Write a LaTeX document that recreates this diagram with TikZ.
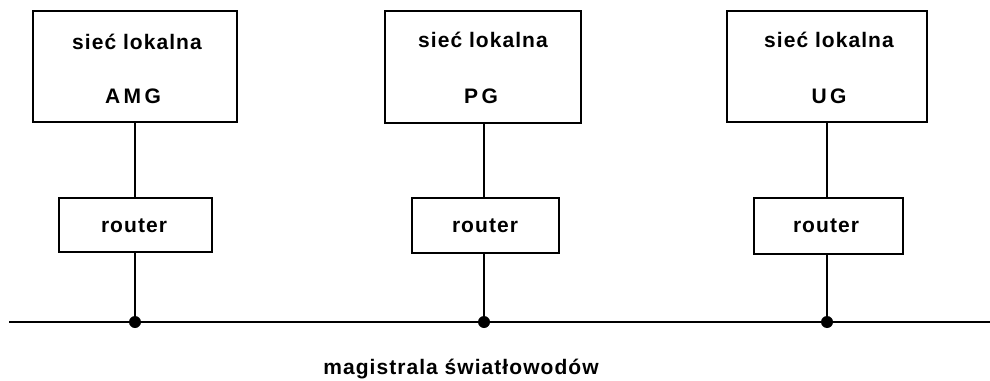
\documentclass[tikz,border=0pt]{standalone}
\usepackage{fontspec}
\setmainfont{Liberation Sans}[LetterSpace=5]
\begin{document}
\begin{tikzpicture}[x=1pt,y=-1pt,
  lanbox/.style={draw, line width=1.3pt, rectangle, inner sep=0pt},
  routerbox/.style={draw, line width=1.3pt, rectangle, inner sep=0pt},
  txt/.style={font=\fontsize{21}{24}\selectfont\bfseries, anchor=base, inner sep=0pt},
  wire/.style={line width=1.6pt},
  joint/.style={circle, fill=black, inner sep=0pt, minimum size=12pt}]
\useasboundingbox (0,0) rectangle (990,380);
% LAN boxes
\node[lanbox, minimum width=204pt, minimum height=111pt] (lan1) at (135,66.5) {};
\node[lanbox, minimum width=196pt, minimum height=112pt] (lan2) at (483,67) {};
\node[lanbox, minimum width=200pt, minimum height=111pt] (lan3) at (827,66.5) {};
\node[txt] (l1a) at (137,49) {sieć lokalna};
\node[txt] (l1b) at (133,103) {A\,M\,G};
\node[txt] (l2a) at (483,47) {sieć lokalna};
\node[txt] (l2b) at (481,103) {P\,G};
\node[txt] (l3a) at (829,47) {sieć lokalna};
\node[txt] (l3b) at (829,103) {U\,G};
% routers
\node[routerbox, minimum width=153pt, minimum height=54pt] (r1) at (135.5,225) {};
\node[routerbox, minimum width=147pt, minimum height=55pt] (r2) at (485.5,225.5) {};
\node[routerbox, minimum width=149pt, minimum height=56pt] (r3) at (828.5,226) {};
\node[txt] (t1) at (134,232) {router};
\node[txt] (t2) at (485,232) {router};
\node[txt] (t3) at (826,232) {router};
% bus
\coordinate (busL) at (9,322);
\coordinate (busR) at (990,322);
\draw[wire] (busL) -- (busR);
\node[joint] (j1) at (135,322) {};
\node[joint] (j2) at (484,322) {};
\node[joint] (j3) at (827,322) {};
% connectors
\draw[wire] (lan1.south -| j1) -- (r1.north -| j1);
\draw[wire] (lan2.south -| j2) -- (r2.north -| j2);
\draw[wire] (lan3.south -| j3) -- (r3.north -| j3);
\draw[wire] (r1.south -| j1) -- (j1.center);
\draw[wire] (r2.south -| j2) -- (j2.center);
\draw[wire] (r3.south -| j3) -- (j3.center);
% label
\node[txt] (bus) at (461,374) {magistrala światłowodów};
\end{tikzpicture}
\end{document}
